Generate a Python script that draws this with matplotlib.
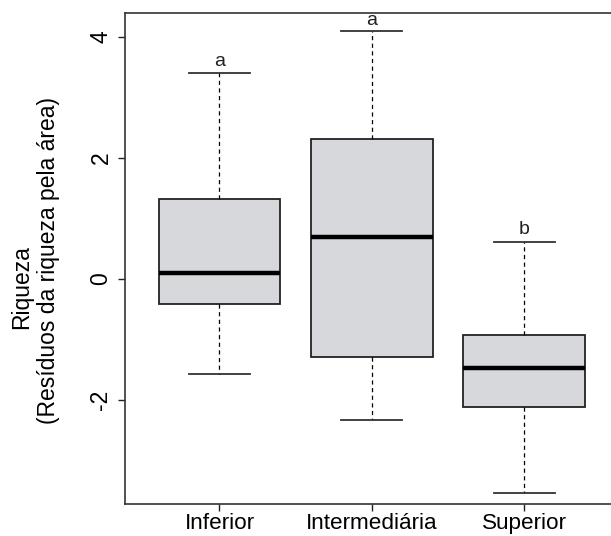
import matplotlib
matplotlib.use("Agg")
import matplotlib.pyplot as plt

# ---- data ----
categories = ["Inferior", "Intermediária", "Superior"]
q1 = [-0.42, -1.29, -2.11]
medians = [0.10, 0.685, -1.47]
q3 = [1.32, 2.31, -0.93]
whisker_low = [-1.57, -2.34, -3.53]
whisker_high = [3.40, 4.09, 0.60]
letters = ["a", "a", "b"]
letter_y = [3.51, 4.19, 0.74]
yticks = [-2, 0, 2, 4]

plt.rcParams['font.family'] = ['Liberation Sans', 'DejaVu Sans']
plt.rcParams['lines.scale_dashes'] = False

W, H = 611, 536
fig = plt.figure(figsize=(W / 100, H / 100), dpi=100)
left_px, right_px, top_px, bot_px = 125, 618.6, 12.7, 504.3
ax = fig.add_axes([left_px / W, 1 - bot_px / H, (right_px - left_px) / W, (bot_px - top_px) / H])

positions = list(range(1, len(categories) + 1))
stats = [dict(label=c, med=m, q1=a, q3=b, whislo=lo, whishi=hi, fliers=[])
         for c, m, a, b, lo, hi in zip(categories, medians, q1, q3, whisker_low, whisker_high)]

ax.bxp(stats, positions=positions, widths=0.8, patch_artist=True, showfliers=False,
       boxprops=dict(facecolor='#D7D8DC', edgecolor='#222222', linewidth=1.3),
       medianprops=dict(color='black', linewidth=3.2, solid_capstyle='butt'),
       whiskerprops=dict(color='black', linewidth=0.9, linestyle=(0, (3, 2.5))),
       capprops=dict(color='#333333', linewidth=1.3), capwidths=0.4)

for p, l, y in zip(positions, letters, letter_y):
    ax.text(p, y, l, ha='center', va='baseline', fontsize=14, color='#222222')

ax.set_xlim(0.38, 3.62)
ax.set_ylim(-3.724, 4.395)
ax.set_xticks(positions)
ax.set_xticklabels(categories, fontsize=16.2)
ax.set_yticks(yticks)
ax.set_yticklabels([str(t) for t in yticks], fontsize=16.5, rotation=90, va='center')
ax.tick_params(axis='both', direction='out', length=5, width=1, color='#222222', pad=4)
ax.tick_params(axis='x', pad=1.2)
for s in ax.spines.values():
    s.set_linewidth(1.2)
    s.set_color('#333333')

fig.text(22 / W, 1 - 287 / H, "Riqueza", rotation=90, ha='center', va='center', fontsize=16.5)
fig.text(49 / W, 1 - 260 / H, "(Resíduos da riqueza pela área)", rotation=90,
         ha='center', va='center', fontsize=16.5)

fig.savefig("out.png", dpi=100)
